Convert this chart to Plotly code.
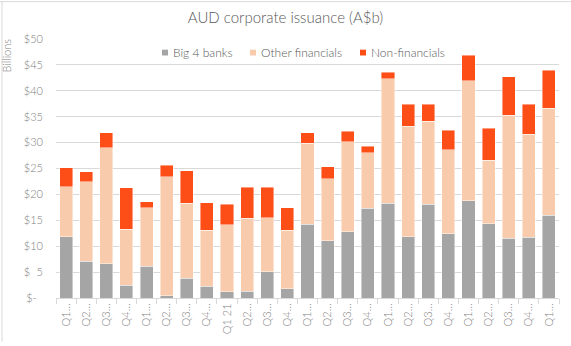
import plotly.graph_objects as go

# Quarterly AUD corporate issuance, A$ billions
periods = [
    "Q1 19", "Q2 19", "Q3 19", "Q4 19",
    "Q1 20", "Q2 20", "Q3 20", "Q4 20",
    "Q1 21", "Q2 21", "Q3 21", "Q4 21",
    "Q1 22", "Q2 22", "Q3 22", "Q4 22",
    "Q1 23", "Q2 23", "Q3 23", "Q4 23",
    "Q1 24", "Q2 24", "Q3 24", "Q4 24",
    "Q1 25",
]
tick_labels = [
    "Q1…", "Q2…", "Q3…", "Q4…",
    "Q1…", "Q2…", "Q3…", "Q4…",
    "Q1 21", "Q2…", "Q3…", "Q4…",
    "Q1…", "Q2…", "Q3…", "Q4…",
    "Q1…", "Q2…", "Q3…", "Q4…",
    "Q1…", "Q2…", "Q3…", "Q4…",
    "Q1…",
]
big4_banks = [11.8, 7.1, 6.6, 2.5, 6.1, 0.4, 3.8, 2.3, 1.2, 1.3, 5.1, 1.8,
              14.2, 11.1, 12.8, 17.3, 18.3, 11.8, 18.1, 12.4, 18.8, 14.3,
              11.5, 11.7, 16.0]
other_financials = [9.7, 15.3, 22.4, 10.8, 11.3, 23.0, 14.5, 10.8, 12.9, 14.1,
                    10.4, 11.3, 15.7, 11.9, 17.4, 10.7, 24.0, 21.4, 16.0, 16.2,
                    23.1, 12.3, 23.8, 19.9, 20.6]
non_financials = [3.6, 2.0, 2.9, 8.0, 1.2, 2.2, 6.3, 5.3, 4.0, 6.0, 5.9, 4.3,
                  2.0, 2.3, 2.0, 1.3, 1.3, 4.2, 3.3, 3.8, 5.0, 6.2, 7.4, 5.8,
                  7.4]

series_names = ["Big 4 banks", "Other financials", "Non-financials"]
series_colors = ["#A5A5A5", "#F8CBAD", "#FC4E16"]

y_ticks = list(range(0, 55, 5))
y_tick_text = ["$-\u2007"] + [f"${v}" if v >= 10 else f"$\u2007{v}" for v in y_ticks[1:]]

W, H = 571, 346
L, R, T, B = 56, 559, 39, 306


def px_x(p):
    return (p - L) / (R - L)


def px_y(p):
    return (B - p) / (B - T)


FONT = "Lato"
WEIGHT = 300
TEXT_GREY = "#595959"
AXIS_GREY = "#808080"
LINE_GREY = "#D9D9D9"

fig = go.Figure()
for name, vals, col in zip(series_names,
                           [big4_banks, other_financials, non_financials],
                           series_colors):
    fig.add_trace(go.Bar(
        x=periods, y=vals, name=name,
        marker=dict(color=col, line=dict(color="rgba(255,255,255,0.55)", width=0.8)),
        showlegend=False,
    ))

# Legend: small square keys with labels, centred above the bars
legend_items = [(162, 171), (250, 259), (360, 369)]
shapes = []
annotations = []
for (sq_x, tx_x), name, col in zip(legend_items, series_names, series_colors):
    shapes.append(dict(type="rect", xref="paper", yref="paper",
                       x0=px_x(sq_x), x1=px_x(sq_x + 6),
                       y0=px_y(56), y1=px_y(50),
                       fillcolor=col, line=dict(width=0)))
    annotations.append(dict(text=name, xref="paper", yref="paper",
                            x=px_x(tx_x), y=px_y(53), xanchor="left",
                            yanchor="middle", showarrow=False,
                            font=dict(family=FONT, size=12, color=TEXT_GREY,
                                      weight=WEIGHT)))

# Axis title on the value axis
annotations.append(dict(text="Billions", xref="paper", yref="paper",
                        x=px_x(6), y=px_y(56), textangle=-90,
                        xanchor="center", yanchor="middle", showarrow=False,
                        font=dict(family=FONT, size=11, color=AXIS_GREY,
                                  weight=WEIGHT)))

# Chart-area border (left and top edges)
shapes.append(dict(type="line", xref="paper", yref="paper",
                   x0=px_x(2), x1=px_x(2), y0=px_y(0), y1=px_y(H + 5),
                   line=dict(color=LINE_GREY, width=1)))
shapes.append(dict(type="line", xref="paper", yref="paper",
                   x0=px_x(0), x1=px_x(W + 5), y0=px_y(0.5), y1=px_y(0.5),
                   line=dict(color=LINE_GREY, width=1)))

fig.update_layout(
    width=W, height=H,
    margin=dict(l=L, r=W - R, t=T, b=H - B),
    paper_bgcolor="white", plot_bgcolor="white",
    barmode="stack", bargap=0.35,
    title=dict(text="AUD corporate issuance (A$b)", x=0.5, xref="container",
               y=1 - 18 / H, yref="container", xanchor="center", yanchor="middle",
               font=dict(family=FONT, size=15, color=TEXT_GREY, weight=WEIGHT)),
    font=dict(family=FONT, color=AXIS_GREY, weight=WEIGHT),
    shapes=shapes,
    annotations=annotations,
    xaxis=dict(type="category", tickmode="array", tickvals=periods,
               ticktext=tick_labels, tickangle=-90,
               ticks="outside", tickson="boundaries", ticklen=5,
               tickcolor=LINE_GREY, showline=True, linecolor=LINE_GREY,
               linewidth=1, showgrid=False,
               tickfont=dict(family=FONT, size=11, color=AXIS_GREY,
                             weight=WEIGHT)),
    yaxis=dict(range=[0, 50], tickmode="array", tickvals=y_ticks,
               ticktext=y_tick_text, showgrid=True, gridcolor=LINE_GREY,
               gridwidth=1, zeroline=False, showline=False,
               ticklabelstandoff=12,
               tickfont=dict(family=FONT, size=11, color=AXIS_GREY,
                             weight=WEIGHT)),
)

fig.write_html("out.html")
